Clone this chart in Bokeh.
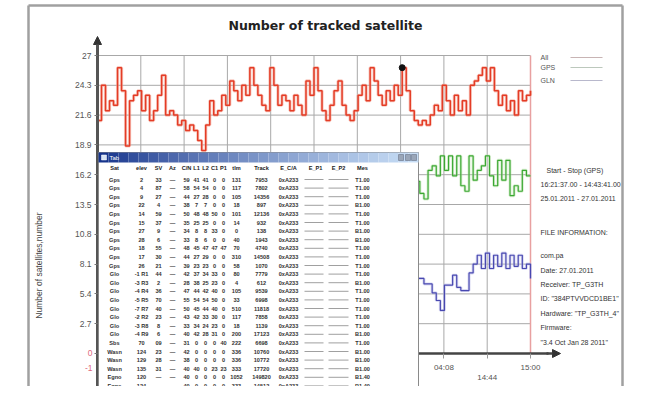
import numpy as np
from bokeh.plotting import figure
from bokeh.models import Range1d, FixedTicker, Arrow, NormalHead
from bokeh.embed import file_html
from bokeh.resources import INLINE
from bokeh.core.properties import value

# ---------------- data ----------------
title_text = "Number of tracked satellite"
y_label = "Number of satellites,number"
y_ticks = [0, 2.7, 5.4, 8.1, 10.8, 13.5, 16.2, 18.9, 21.6, 24.3, 27]
y_tick_labels = ["", "2.7", "5.4", "8.1", "10.8", "13.5", "16.2", "18.9", "21.6", "24.3", "27"]
x_grid = [1, 2, 3, 4, 5, 6, 7, 8, 9, 10]
x_ticks = [8, 9, 10]
x_tick_labels = ["04:08", "\n14:44", "15:00"]
series_names = ["All", "GPS", "GLN"]

all_vals = [21.1, 24.3, 22.0, 22.9, 22.5, 25.9, 23.8, 18.8, 22.9, 23.4, 23.8, 22.0, 23.4, 21.1,
            22.0, 23.4, 25.2, 21.6, 22.0, 21.6, 20.7, 21.1, 20.2, 20.7, 20.2, 19.3, 18.4, 20.7,
            22.9, 21.6, 22.0, 23.4, 22.5, 24.7, 23.8, 22.9, 24.3, 23.4, 25.9, 24.3, 23.4, 22.5,
            22.0, 25.9, 24.3, 22.5, 23.4, 22.9, 22.0, 23.4, 22.5, 21.6, 24.7, 23.4, 25.9, 23.8,
            22.0, 21.1, 22.5, 23.8, 24.7, 22.5, 21.6, 21.1, 22.0, 23.4, 24.3, 22.9, 25.9, 24.7,
            23.4, 22.5, 23.8, 22.9, 24.3, 23.4, 25.9, 23.8, 22.0, 21.1, 20.7, 21.1, 20.7, 21.6,
            22.5, 22.0, 24.3, 22.9, 21.6, 23.4, 22.0, 22.9, 21.6, 24.3, 24.7, 25.2, 25.9, 24.7,
            25.9, 23.8, 22.5, 23.4, 22.0, 22.9, 21.6, 23.8, 22.9, 23.4, 23.8]
gps_vals = [15.6, 14.5, 14.0, 16.6, 17.0, 16.1, 17.9, 16.6, 17.9, 16.1, 17.9, 15.2, 14.7, 17.9,
            15.7, 16.6, 17.0, 17.9, 16.1, 15.2, 17.5, 15.7, 17.5, 14.3, 15.2, 14.7, 16.6, 16.1, 16.1]
gln_vals = [6.8, 6.8, 6.3, 6.3, 5.5, 4.8, 3.9, 6.2, 6.2, 7.1, 6.0, 5.7, 5.7, 7.3, 8.1, 8.9, 7.7,
            9.1, 7.7, 8.9, 7.9, 9.1, 7.7, 8.9, 7.9, 8.9, 7.7, 8.1, 6.8]
all_t = np.linspace(0, 10, len(all_vals))
sub_t = np.linspace(7.35, 10, len(gps_vals))
cursor_t = 7.0

info_lines = ["Start - Stop (GPS)", "16:21:37.00 - 14:43:41.00", "25.01.2011 - 27.01.2011",
              "FILE INFORMATION:", "com.pa", "Date: 27.01.2011", "Receiver: TP_G3TH",
              "ID: \"384PTVVDCD1BE1\"", "Hardware: \"TP_G3TH_4\"", "Firmware:",
              "\"3.4 Oct Jan 28 2011\""]

tab_header = ["Sat", "elev", "SV", "Az", "C/N", "L1", "L2", "C1", "P1", "tlm", "Track", "E_C/A", "Mes"]
tab_rows = [
    ["Gps", "2", "33", "—", "59", "41", "41", "0", "0", "131", "7953", "0xA233", "T1.00"],
    ["Gps", "4", "87", "—", "58", "54", "54", "0", "0", "117", "7802", "0xA233", "T1.00"],
    ["Gps", "9", "27", "—", "44", "27", "28", "0", "0", "105", "14356", "0xA233", "T1.00"],
    ["Gps", "22", "4", "—", "38", "7", "7", "0", "0", "18", "897", "0xA233", "B1.00"],
    ["Gps", "14", "59", "—", "50", "48", "48", "50", "0", "101", "12136", "0xA233", "T1.00"],
    ["Gps", "15", "37", "—", "35", "25", "25", "0", "0", "14", "932", "0xA233", "T1.00"],
    ["Gps", "27", "9", "—", "34", "8", "8", "33", "0", "0", "138", "0xA233", "B1.00"],
    ["Gps", "28", "6", "—", "33", "8", "6", "0", "0", "40", "1943", "0xA233", "B1.00"],
    ["Gps", "18", "55", "—", "48", "45", "47", "47", "47", "70", "4740", "0xA233", "T1.00"],
    ["Gps", "17", "30", "—", "44", "27", "29", "0", "0", "310", "14508", "0xA233", "T1.00"],
    ["Gps", "26", "21", "—", "39", "23", "23", "0", "0", "58", "1070", "0xA233", "T1.00"],
    ["Glo", "-1 R1", "44", "—", "42", "37", "34", "33", "0", "80", "7779", "0xA233", "T1.00"],
    ["Glo", "-3 R3", "2", "—", "28", "38", "25", "23", "0", "4", "612", "0xA233", "B1.00"],
    ["Glo", "-4 R4", "36", "—", "47", "44", "42", "40", "0", "105", "9539", "0xA233", "T1.00"],
    ["Glo", "-5 R5", "70", "—", "55", "54", "54", "50", "0", "33", "6998", "0xA233", "T1.00"],
    ["Glo", "-7 R7", "40", "—", "50", "45", "44", "40", "0", "510", "11818", "0xA233", "T1.00"],
    ["Glo", "-2 R2", "23", "—", "43", "42", "33", "30", "0", "117", "7858", "0xA233", "T1.00"],
    ["Glo", "-3 R8", "8", "—", "33", "34", "24", "23", "0", "18", "1139", "0xA233", "T1.00"],
    ["Glo", "-4 R9", "6", "—", "40", "42", "28", "31", "0", "200", "17123", "0xA233", "B1.00"],
    ["Sbs", "70", "09", "—", "31", "0", "0", "0", "40", "222", "6698", "0xA233", "T1.00"],
    ["Wasn", "124", "23", "—", "42", "0", "0", "0", "0", "336", "10760", "0xA233", "B1.00"],
    ["Wasn", "129", "28", "—", "38", "0", "0", "0", "0", "336", "10772", "0xA233", "B1.00"],
    ["Wasn", "135", "31", "—", "40", "40", "0", "23", "23", "333", "17720", "0xA233", "B1.00"],
    ["Egno", "120", "—", "—", "40", "0", "0", "0", "0", "1052", "149820", "0xA233", "B1.40"],
    ["Egno", "124", "—", "—", "40", "0", "0", "0", "0", "333", "14512", "0xA233", "B1.40"],
    ["Egno", "126", "—", "—", "38", "0", "0", "0", "44", "84", "1870", "0xA233", "B1.40"],
]

# ---------------- layout helpers (picture pixel -> data) ----------------
X0, SX = 97.0, 43.3
Y0, SY = 353.0, 11.037
def dx(px):
    return (px - X0) / SX
def dy(py):
    return (Y0 - py) / SY

W, H = 634, 386
p = figure(width=W, height=H, output_backend="svg", toolbar_location=None,
           x_range=Range1d(dx(0), dx(W)), y_range=Range1d(dy(H), dy(0)),
           min_border=0, min_border_left=0, min_border_right=0, min_border_top=0,
           min_border_bottom=0)
p.outline_line_color = None
p.background_fill_color = "white"
p.border_fill_color = "white"
p.xgrid.grid_line_color = None
p.ygrid.grid_line_color = None

FONT = value("Liberation Sans")

# outer frame
p.segment(x0=[dx(28), dx(622)], y0=[dy(5), dy(5)], x1=[dx(28), dx(622)], y1=[dy(420), dy(420)],
          line_color="#a0a0a0", line_width=2.5)
p.segment(x0=[dx(28)], y0=[dy(5)], x1=[dx(622)], y1=[dy(5)], line_color="#a0a0a0", line_width=2.5)

# title
p.text(x=[dx(325)], y=[dy(25)], text=[title_text], text_font=value("DejaVu Sans"),
       text_font_style="bold", text_font_size="12.5px", text_align="center",
       text_baseline="middle", text_color="#222222")

# y label
p.text(x=[dx(38)], y=[dy(265)], text=[y_label], angle=np.pi / 2, text_font=FONT,
       text_font_size="8.5px", text_align="center", text_baseline="middle", text_color="#444444")

# grid lines
p.segment(x0=[0] * len(y_ticks[1:]), y0=y_ticks[1:], x1=[10] * len(y_ticks[1:]), y1=y_ticks[1:],
          line_color="#a8a8a8", line_width=1)
p.segment(x0=x_grid[:-1], y0=[0] * (len(x_grid) - 1), x1=x_grid[:-1], y1=[27] * (len(x_grid) - 1),
          line_color="#a8a8a8", line_width=1)
p.segment(x0=[10], y0=[0], x1=[10], y1=[27], line_color="#e8a0a0", line_width=1.5)

# series
p.step(all_t, all_vals, mode="after", line_color="#f2a090", line_width=3.2, line_alpha=0.55)
p.step(all_t, all_vals, mode="after", line_color="#e43c26", line_width=1.5)
p.step(sub_t, gps_vals, mode="after", line_color="#b8e0a8", line_width=3, line_alpha=0.5)
p.step(sub_t, gps_vals, mode="after", line_color="#3aa832", line_width=1.2)
p.step(sub_t, gln_vals, mode="after", line_color="#b8b8e8", line_width=3, line_alpha=0.5)
p.step(sub_t, gln_vals, mode="after", line_color="#4848b0", line_width=1.2)
ci = int(np.argmin(np.abs(all_t - cursor_t)))
p.scatter([all_t[ci]], [all_vals[ci]], size=6, color="#111111")

# axes
p.xaxis.fixed_location = 0
p.yaxis.fixed_location = 0
p.yaxis.ticker = FixedTicker(ticks=y_ticks)
p.yaxis.major_label_overrides = dict(zip(y_ticks, y_tick_labels))
p.yaxis.bounds = (dy(400), dy(46))
p.yaxis.axis_line_width = 3
p.yaxis.axis_line_color = "#555555"
p.yaxis.major_tick_out = 3
p.yaxis.major_tick_in = 0
p.yaxis.minor_tick_line_color = None
p.yaxis.major_tick_line_color = "#777777"
p.yaxis.major_label_text_font = "Liberation Sans"
p.yaxis.major_label_text_font_size = "8.5px"
p.yaxis.major_label_text_color = "#555555"
p.yaxis.major_label_standoff = 3

p.xaxis.ticker = FixedTicker(ticks=x_ticks)
p.xaxis.major_label_overrides = dict(zip(x_ticks, x_tick_labels))
p.xaxis.bounds = (0, dx(548))
p.xaxis.axis_line_width = 2.5
p.xaxis.axis_line_color = "#444444"
p.xaxis.major_tick_out = 5
p.xaxis.major_tick_in = 0
p.xaxis.minor_tick_line_color = None
p.xaxis.major_tick_line_color = "#999999"
p.xaxis.major_label_text_font = "Liberation Sans"
p.xaxis.major_label_text_font_size = "8px"
p.xaxis.major_label_text_color = "#555555"
p.xaxis.major_label_standoff = 4

p.add_layout(Arrow(end=NormalHead(size=8, fill_color="#333333", line_color="#333333"),
                   x_start=0, y_start=dy(48), x_end=0, y_end=dy(36),
                   line_width=3, line_color="#555555"))
p.add_layout(Arrow(end=NormalHead(size=8, fill_color="#333333", line_color="#333333"),
                   x_start=dx(546), y_start=0, x_end=dx(560), y_end=0,
                   line_width=2.5, line_color="#444444"))

# red labels near origin
p.text(x=[dx(92), dx(92)], y=[dy(352), dy(367)], text=["0", "-1"], text_font=FONT,
       text_font_size="8.5px", text_align="right", text_baseline="middle", text_color="#e06a80")

# legend
leg_y = [57, 67, 80]
leg_cols = ["#c8b4b4", "#bcc8bc", "#b8b8cc"]
p.text(x=[dx(540)] * 3, y=[dy(v) for v in leg_y], text=series_names, text_font=FONT,
       text_font_size="7px", text_align="left", text_baseline="middle", text_color="#555555")
p.segment(x0=[dx(570)] * 3, y0=[dy(v) for v in leg_y], x1=[dx(602)] * 3, y1=[dy(v) for v in leg_y],
          line_color=leg_cols, line_width=1.2)

# info text
info_y = [170, 184, 198, 232, 255, 270, 284, 298, 313, 327, 342]
info_x = [546] + [540] * 10
p.text(x=[dx(v) for v in info_x], y=[dy(v) for v in info_y], text=info_lines, text_font=FONT,
       text_font_size="7px", text_align="left", text_baseline="middle", text_color="#333333")

# ---------------- table window (overlay) ----------------
TL, TR, TT = 98, 418, 152
p.quad(left=[dx(TL)], right=[dx(TR)], top=[dy(TT)], bottom=[dy(420)], fill_color="white",
       line_color="#8a8a8a", line_width=1, level="overlay")
n_strip = 32
edges = np.linspace(TL, TR, n_strip + 1)
c1, c2 = (22, 52, 140), (200, 222, 246)
strip_cols = ["#%02x%02x%02x" % tuple(int(a + (b - a) * (i / (n_strip - 1)) ** 0.8) for a, b in zip(c1, c2))
              for i in range(n_strip)]
p.quad(left=[dx(v) for v in edges[:-1]], right=[dx(v) for v in edges[1:]],
       top=[dy(TT)] * n_strip, bottom=[dy(162)] * n_strip, fill_color=strip_cols,
       line_color=None, level="overlay")
p.quad(left=[dx(101)], right=[dx(106)], top=[dy(154.5)], bottom=[dy(159.5)], fill_color="#d8e4f4",
       line_color="#ffffff", line_width=0.5, level="overlay")
p.text(x=[dx(109)], y=[dy(157)], text=["Tab"], text_font=FONT, text_font_size="6px",
       text_align="left", text_baseline="middle", text_color="#ffffff", level="overlay")
p.quad(left=[dx(398), dx(405), dx(411)], right=[dx(403), dx(410), dx(416)],
       top=[dy(154)] * 3, bottom=[dy(160)] * 3, fill_color="#9aa6b8", line_color="#5a6478",
       line_width=0.5, level="overlay")

col_x = [114, 141, 158, 172, 186, 196, 205, 214, 223, 236, 261, 288, 362]
TFS = "5.6px"
tx, ty, tt = [], [], []
for j, h in enumerate(tab_header):
    tx.append(dx(col_x[j])); ty.append(dy(167)); tt.append(h)
p.text(x=tx, y=ty, text=tt, text_font=FONT, text_font_style="bold", text_font_size=TFS,
       text_align="center", text_baseline="middle", text_color="#222222", level="overlay")
p.text(x=[dx(315), dx(338)], y=[dy(167)] * 2, text=["E_P1", "E_P2"], text_font=FONT,
       text_font_style="bold", text_font_size=TFS, text_align="center", text_baseline="middle",
       text_color="#222222", level="overlay")
rx, ry, rt = [], [], []
sx0, sy0, sx1 = [], [], []
for i, row in enumerate(tab_rows):
    yy = 179 + 8.6 * i
    for j, c in enumerate(row):
        rx.append(dx(col_x[j])); ry.append(dy(yy)); rt.append(c)
    sx0 += [dx(304), dx(328)]
    sx1 += [dx(323), dx(348)]
    sy0 += [dy(yy), dy(yy)]
p.text(x=rx, y=ry, text=rt, text_font=FONT, text_font_style="bold", text_font_size=TFS,
       text_align="center", text_baseline="middle", text_color="#333333", level="overlay")
p.segment(x0=sx0, y0=sy0, x1=sx1, y1=sy0, line_color="#888888", line_width=0.8, level="overlay")

open("out.html", "w").write(file_html(p, INLINE))
